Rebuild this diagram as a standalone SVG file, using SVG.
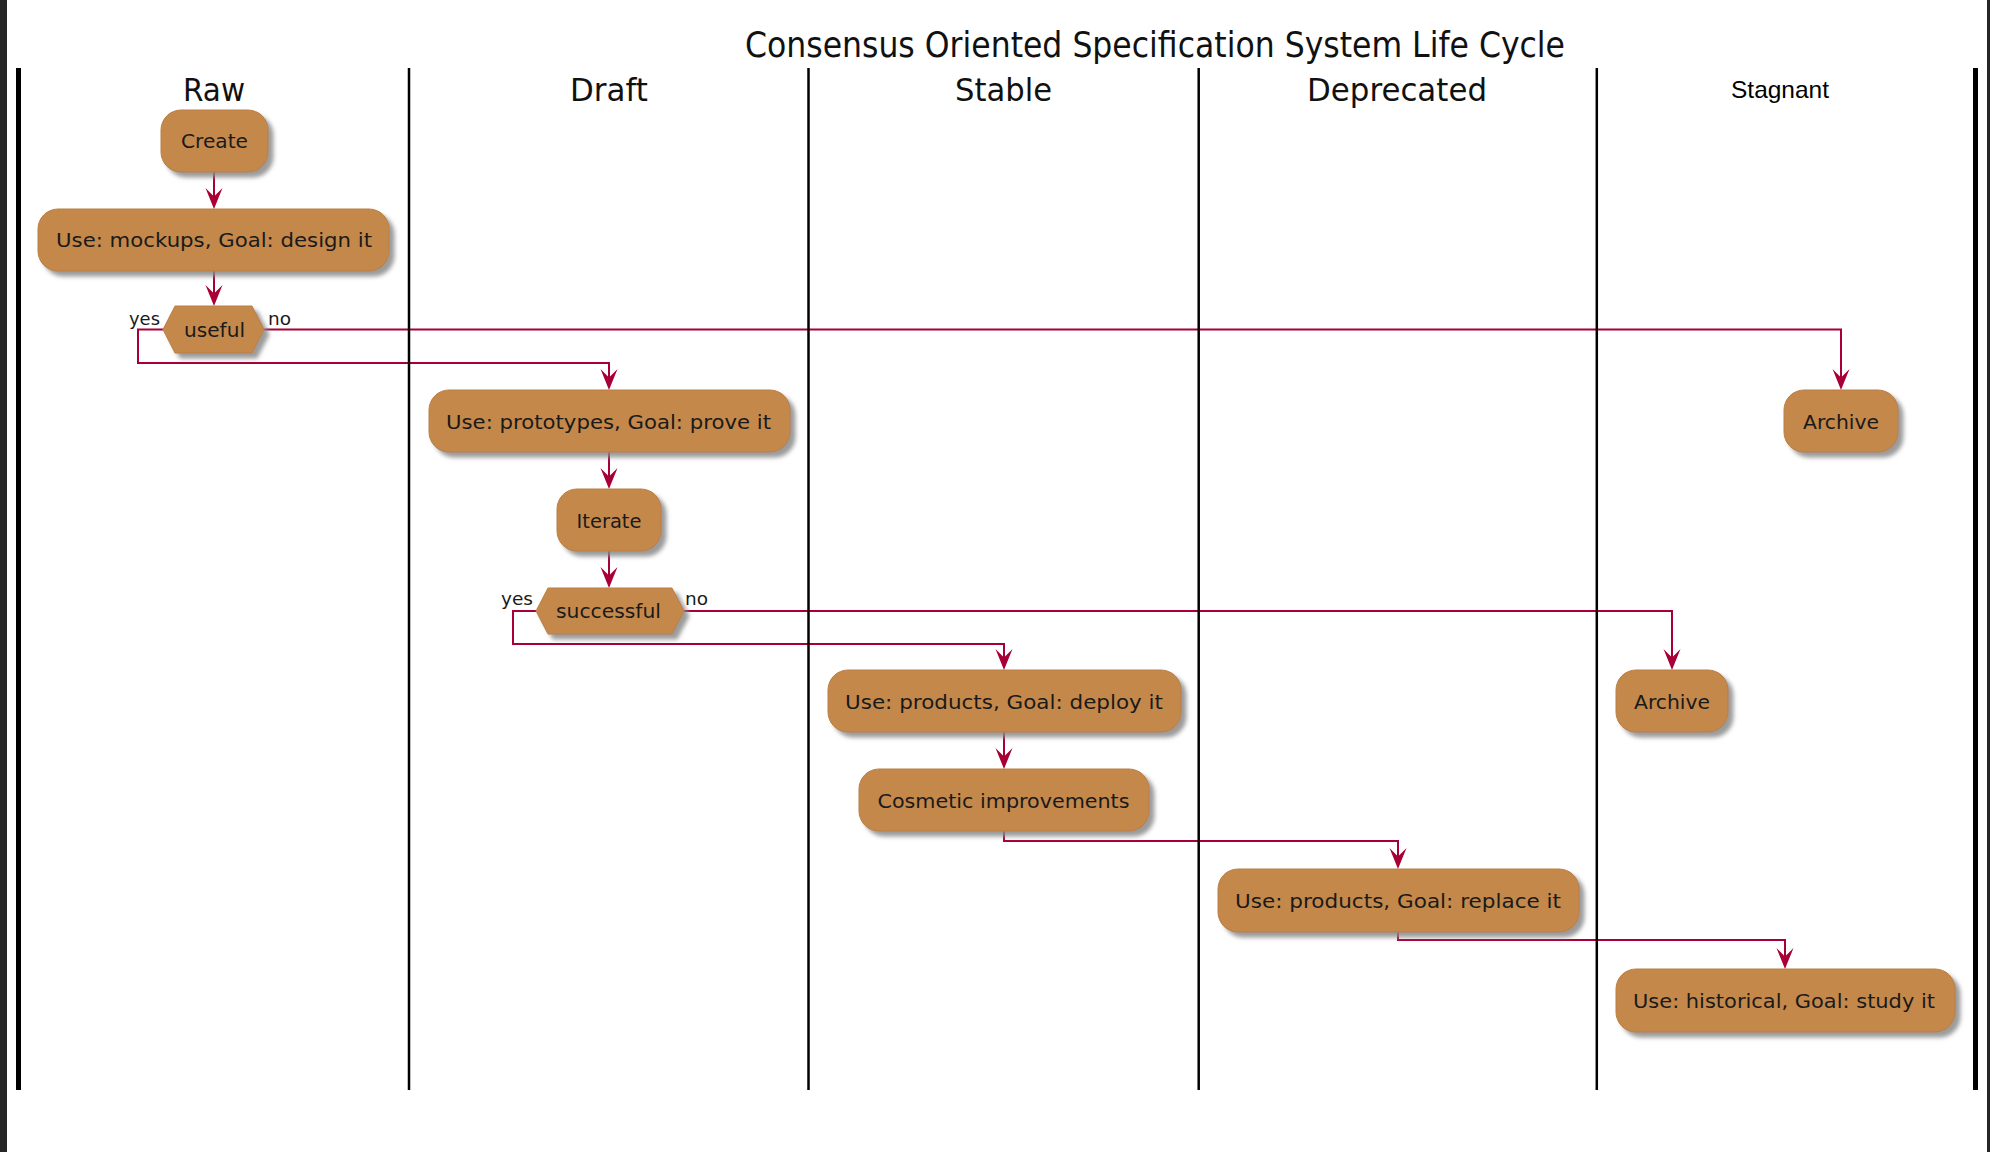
<svg xmlns="http://www.w3.org/2000/svg" width="1990" height="1152" viewBox="0 0 1990 1152">
<defs>
<style>
.node{fill:#C4884C;stroke:#BA7F45;stroke-width:1;filter:url(#sh)}
.t{font-family:"DejaVu Sans",sans-serif;font-size:20px;fill:#1a1a1a;text-anchor:middle}
.lbl{font-family:"DejaVu Sans",sans-serif;font-size:18px;fill:#1a1a1a}
.hdr{font-family:"DejaVu Sans",sans-serif;font-size:32px;fill:#111;text-anchor:middle}
.lane{stroke:#000;stroke-width:2.5}
.edge{fill:none;stroke:#A80036;stroke-width:2}
.ah{fill:#A80036}
</style>
<filter id="sh" x="-20%" y="-30%" width="140%" height="160%">
<feDropShadow dx="5" dy="5" stdDeviation="2" flood-color="#8a8a8a" flood-opacity="0.85"/>
</filter>
<marker id="arr" viewBox="-10 -22 20 23" refX="0" refY="0" markerWidth="20" markerHeight="23" markerUnits="userSpaceOnUse" orient="auto-start-reverse">
<path d="M0,0 L-8.5,-21 L0,-12.5 L8.5,-21 Z" class="ah" transform="rotate(-90)"/>
</marker>
</defs>
<rect x="0" y="0" width="1990" height="1152" fill="#ffffff"/>
<rect x="0" y="0" width="7" height="1152" fill="#262626"/>
<rect x="1987" y="0" width="3" height="1152" fill="#262626"/>

<text x="1155" y="57" font-family="DejaVu Sans, sans-serif" font-size="35" fill="#111" text-anchor="middle" textLength="820" lengthAdjust="spacingAndGlyphs">Consensus Oriented Specification System Life Cycle</text>

<g id="lanes">
<text class="hdr" x="214" y="101" textLength="62" lengthAdjust="spacingAndGlyphs">Raw</text>
<text class="hdr" x="609" y="101" textLength="78" lengthAdjust="spacingAndGlyphs">Draft</text>
<text class="hdr" x="1003.5" y="101" textLength="97" lengthAdjust="spacingAndGlyphs">Stable</text>
<text class="hdr" x="1397" y="101" textLength="180" lengthAdjust="spacingAndGlyphs">Deprecated</text>
<text x="1780" y="98" font-family="Liberation Sans, Arial, sans-serif" font-size="24" fill="#000" text-anchor="middle" textLength="98" lengthAdjust="spacingAndGlyphs">Stagnant</text>
</g>

<g id="connectors">
<path class="edge" d="M214,172 V201"/>
<path d="M214,209 L205.5,188 L214,196.5 L222.5,188 Z" class="ah"/>
<path class="edge" d="M214,271 V298"/>
<path d="M214,306 L205.5,285 L214,293.5 L222.5,285 Z" class="ah"/>
<path class="edge" d="M163,329.5 H138 V363 H609 V382"/>
<path d="M609,390 L600.5,369 L609,377.5 L617.5,369 Z" class="ah"/>
<path class="edge" d="M264,329.5 H1841 V382"/>
<path d="M1841,390 L1832.5,369 L1841,377.5 L1849.5,369 Z" class="ah"/>
<path class="edge" d="M609,452 V481"/>
<path d="M609,489 L600.5,468 L609,476.5 L617.5,468 Z" class="ah"/>
<path class="edge" d="M609,551 V580"/>
<path d="M609,588 L600.5,567 L609,575.5 L617.5,567 Z" class="ah"/>
<path class="edge" d="M536,611 H513 V644 H1004 V662"/>
<path d="M1004,670 L995.5,649 L1004,657.5 L1012.5,649 Z" class="ah"/>
<path class="edge" d="M684,611 H1672 V662"/>
<path d="M1672,670 L1663.5,649 L1672,657.5 L1680.5,649 Z" class="ah"/>
<path class="edge" d="M1004,732 V761"/>
<path d="M1004,769 L995.5,748 L1004,756.5 L1012.5,748 Z" class="ah"/>
<path class="edge" d="M1004,831 V841 H1398 V861"/>
<path d="M1398,869 L1389.5,848 L1398,856.5 L1406.5,848 Z" class="ah"/>
<path class="edge" d="M1398,932 V940 H1785 V961"/>
<path d="M1785,969 L1776.5,948 L1785,956.5 L1793.5,948 Z" class="ah"/>
</g>

<g id="dividers">
<rect x="16" y="68" width="5" height="1022" fill="#000"/>
<line class="lane" x1="409" y1="68" x2="409" y2="1090"/>
<line class="lane" x1="808.5" y1="68" x2="808.5" y2="1090"/>
<line class="lane" x1="1198.7" y1="68" x2="1198.7" y2="1090"/>
<line class="lane" x1="1596.8" y1="68" x2="1596.8" y2="1090"/>
<rect x="1973" y="68" width="5" height="1022" fill="#000"/>
</g>

<g id="n-create"><rect class="node" x="161" y="110" width="107" height="62" rx="20"/><text class="t" x="214.5" y="148" textLength="67" lengthAdjust="spacingAndGlyphs">Create</text></g>
<g id="n-mockups"><rect class="node" x="38" y="209" width="351" height="62" rx="20"/><text class="t" x="214" y="247" textLength="316" lengthAdjust="spacingAndGlyphs">Use: mockups, Goal: design it</text></g>
<g id="n-useful"><polygon class="node" points="163,329.5 175,306 252,306 264,329.5 252,353 175,353"/><text class="t" x="214.5" y="337" textLength="61" lengthAdjust="spacingAndGlyphs">useful</text>
<text class="lbl" x="129" y="325" textLength="31" lengthAdjust="spacingAndGlyphs">yes</text><text class="lbl" x="268" y="325" textLength="23" lengthAdjust="spacingAndGlyphs">no</text></g>
<g id="n-prototypes"><rect class="node" x="429" y="390" width="361" height="62" rx="20"/><text class="t" x="608.5" y="429" textLength="325" lengthAdjust="spacingAndGlyphs">Use: prototypes, Goal: prove it</text></g>
<g id="n-iterate"><rect class="node" x="557" y="489" width="104" height="62" rx="20"/><text class="t" x="609" y="528" textLength="65" lengthAdjust="spacingAndGlyphs">Iterate</text></g>
<g id="n-successful"><polygon class="node" points="536,611 548,588 672,588 684,611 672,634 548,634"/><text class="t" x="608.5" y="618" textLength="105" lengthAdjust="spacingAndGlyphs">successful</text>
<text class="lbl" x="501" y="605" textLength="32" lengthAdjust="spacingAndGlyphs">yes</text><text class="lbl" x="685" y="605" textLength="23" lengthAdjust="spacingAndGlyphs">no</text></g>
<g id="n-deploy"><rect class="node" x="828" y="670" width="353" height="62" rx="20"/><text class="t" x="1004" y="709" textLength="318" lengthAdjust="spacingAndGlyphs">Use: products, Goal: deploy it</text></g>
<g id="n-cosmetic"><rect class="node" x="859" y="769" width="290" height="62" rx="20"/><text class="t" x="1003.5" y="808" textLength="252" lengthAdjust="spacingAndGlyphs">Cosmetic improvements</text></g>
<g id="n-replace"><rect class="node" x="1218" y="869" width="361" height="63" rx="20"/><text class="t" x="1398" y="908" textLength="326" lengthAdjust="spacingAndGlyphs">Use: products, Goal: replace it</text></g>
<g id="n-historical"><rect class="node" x="1616" y="969" width="339" height="63" rx="20"/><text class="t" x="1784" y="1008" textLength="302" lengthAdjust="spacingAndGlyphs">Use: historical, Goal: study it</text></g>
<g id="n-archive1"><rect class="node" x="1784" y="390" width="114" height="62" rx="20"/><text class="t" x="1841" y="429" textLength="76" lengthAdjust="spacingAndGlyphs">Archive</text></g>
<g id="n-archive2"><rect class="node" x="1616" y="670" width="112" height="62" rx="20"/><text class="t" x="1672" y="709" textLength="76" lengthAdjust="spacingAndGlyphs">Archive</text></g>
</svg>
